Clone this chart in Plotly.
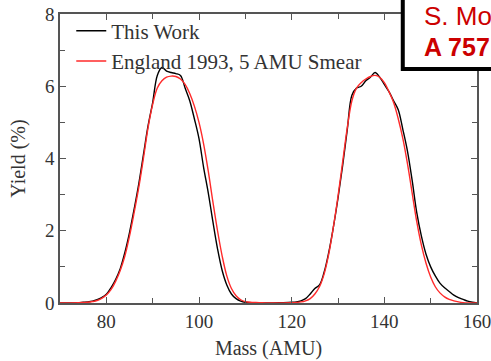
import plotly.graph_objects as go

mass_black = [70, 72, 74, 75, 76, 77, 78, 79, 80, 81, 82, 83, 84, 85, 86, 87, 88, 89, 90, 91, 92, 93, 94, 95, 96, 97, 98, 99, 100,
              101, 102, 103, 104, 105, 106, 107, 108, 109, 110, 112, 115, 118, 120, 121, 122, 123, 124, 125, 126, 127, 128,
              129, 130, 131, 132, 133, 134, 135, 136, 137, 138, 139, 140, 141, 142, 143, 144, 145, 146, 147, 148, 149, 150,
              151, 152, 153, 154, 155, 156, 157, 158, 159, 160]
yield_black = [0, 0, 0.01, 0.02, 0.03, 0.05, 0.09, 0.15, 0.24, 0.42, 0.65, 0.95, 1.4, 1.95, 2.6, 3.3, 4.1, 4.9, 5.55, 6.3, 6.52,
               6.42, 6.38, 6.35, 6.3, 5.95, 5.6, 5.1, 4.55, 3.75, 3.05, 2.25, 1.5, 0.9, 0.5, 0.25, 0.12, 0.05, 0.02, 0.01, 0,
               0.01, 0.02, 0.03, 0.06, 0.12, 0.25, 0.4, 0.5, 0.85, 1.4, 2.1, 2.9, 3.8, 4.8, 5.75, 5.95, 6.0, 6.15, 6.25, 6.38,
               6.25, 6.05, 5.85, 5.6, 5.35, 4.8, 4.2, 3.4, 2.5, 1.85, 1.35, 1.0, 0.75, 0.55, 0.42, 0.32, 0.22, 0.15, 0.1, 0.05,
               0.02, 0.0]

mass_red = [70, 74, 76, 77, 78, 79, 80, 81, 82, 83, 84, 85, 86, 87, 88, 89, 90, 91, 92, 93, 94, 95, 96, 97, 98, 99, 100, 101,
            102, 103, 104, 105, 106, 107, 108, 109, 110, 111, 113, 115, 120, 122, 123, 124, 125, 126, 127, 128, 129, 130, 131,
            132, 133, 134, 135, 136, 137, 138, 139, 140, 141, 142, 143, 144, 145, 146, 147, 148, 149, 150, 151, 152, 153, 154,
            155, 156, 157, 158, 160]
yield_red = [0, 0.01, 0.02, 0.04, 0.07, 0.13, 0.22, 0.37, 0.6, 0.9, 1.3, 1.85, 2.5, 3.2, 4.0, 4.85, 5.5, 5.95, 6.15, 6.25, 6.28,
             6.27, 6.2, 6.05, 5.8, 5.45, 5.0, 4.4, 3.65, 2.8, 2.0, 1.3, 0.75, 0.4, 0.2, 0.09, 0.04, 0.02, 0.01, 0, 0.01, 0.03,
             0.06, 0.12, 0.25, 0.45, 0.8, 1.35, 2.1, 2.95, 3.9, 4.85, 5.6, 5.95, 6.1, 6.2, 6.27, 6.3, 6.25, 6.1, 5.85, 5.55,
             5.1, 4.55, 3.85, 3.05, 2.25, 1.6, 1.1, 0.72, 0.45, 0.28, 0.17, 0.1, 0.06, 0.03, 0.01, 0.0, 0]

x_ticks = [80, 100, 120, 140, 160]
y_ticks = [0, 2, 4, 6, 8]

serif = "Liberation Serif, Times New Roman, serif"
axis_col = "#555555"
txt_col = "#333333"

fig = go.Figure()
fig.add_trace(go.Scatter(x=mass_black, y=yield_black, mode="lines", name="This Work",
                         line=dict(color="black", width=1.4), line_shape="spline"))
fig.add_trace(go.Scatter(x=mass_red, y=yield_red, mode="lines", name="England 1993, 5 AMU Smear",
                         line=dict(color="#ff2a2a", width=1.4), line_shape="spline"))

common = dict(showgrid=False, zeroline=False, showline=True, linecolor=axis_col, linewidth=1.5,
              mirror="ticks", ticks="inside", ticklen=6, tickcolor=axis_col, tickwidth=1.2,
              ticklabeloverflow="allow",
              tickfont=dict(family=serif, size=19, color=txt_col))
fig.update_xaxes(range=[70, 160], tickvals=x_ticks, ticktext=[str(v) for v in x_ticks],
                 minor=dict(dtick=10, tick0=0, ticks="inside", ticklen=5, tickcolor=axis_col, tickwidth=1.2),
                 title=dict(text="Mass (AMU)", font=dict(family=serif, size=20, color=txt_col), standoff=10),
                 **common)
fig.update_yaxes(range=[0, 8], tickvals=y_ticks, ticktext=[str(v) for v in y_ticks],
                 minor=dict(dtick=1, tick0=0, ticks="inside", ticklen=5, tickcolor=axis_col, tickwidth=1.2),
                 title=dict(text="Yield (%)", font=dict(family=serif, size=20, color=txt_col), standoff=14),
                 **common)

fig.add_shape(type="rect", xref="paper", yref="paper", x0=0.822, x1=1.06, y0=0.81, y1=1.07,
              line=dict(color="black", width=4), fillcolor="white", layer="above")
fig.add_annotation(xref="paper", yref="paper", x=0.868, y=0.993, xanchor="left", yanchor="middle",
                   text="S. Mo", showarrow=False,
                   font=dict(family="Liberation Sans, Arial, sans-serif", size=26, color="#cc0000"))
fig.add_annotation(xref="paper", yref="paper", x=0.868, y=0.886, xanchor="left", yanchor="middle",
                   text="<b>A 757</b>", showarrow=False,
                   font=dict(family="Liberation Sans, Arial, sans-serif", size=25, color="#cc0000"))

fig.update_layout(width=491, height=361, margin=dict(l=60, r=14, t=14, b=58, autoexpand=False),
                  paper_bgcolor="white", plot_bgcolor="white",
                  legend=dict(x=0.027, y=1.012, xanchor="left", yanchor="top", bgcolor="rgba(0,0,0,0)",
                              font=dict(family=serif, size=21, color=txt_col)),
                  showlegend=True)

fig.write_html("out.html")
